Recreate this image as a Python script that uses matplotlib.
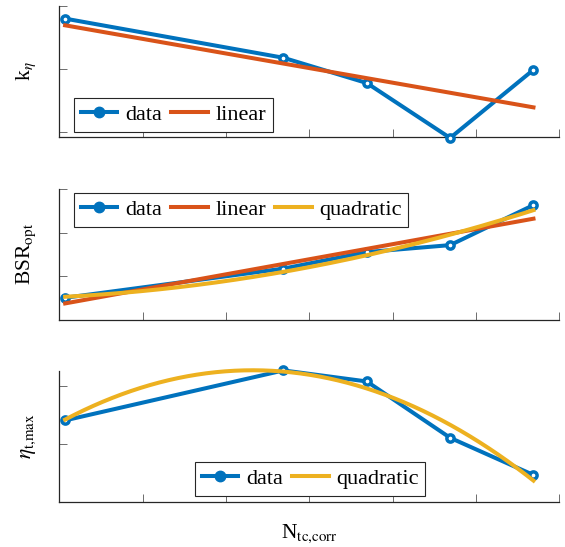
import numpy as np
import matplotlib
matplotlib.use("Agg")
import matplotlib.pyplot as plt
from matplotlib.lines import Line2D

# ---- data (axes have no tick labels) ----
n_tc_corr = [0.07, 2.69, 3.69, 4.69, 5.69]
k_eta = [1.80, 1.18, 0.78, -0.09, 0.99]
bsr_opt = [0.50, 1.17, 1.55, 1.71, 2.63]
eta_t_max = [1.40, 2.26, 2.07, 1.10, 0.46]

x_ticks = [0, 1, 2, 3, 4, 5, 6]
ylabels = ["k$_{\\eta}$", "BSR$_{\\mathrm{opt}}$", "$\\eta_{\\mathrm{t{,}max}}$"]
xlabel = "N$_{\\mathrm{tc{,}corr}}$"

BLUE = "#0072BD"
ORANGE = "#D95319"
YELLOW = "#EDB120"
DARK = "#262626"

plt.rcParams["font.family"] = ["Liberation Serif", "DejaVu Serif"]
plt.rcParams["mathtext.fontset"] = "stix"

W, H = 565, 547
fig = plt.figure(figsize=(W / 100, H / 100), dpi=100)

def ax_rect(left_px, right_px, top_px, bottom_px):
    return [left_px / W, 1 - bottom_px / H, (right_px - left_px) / W, (bottom_px - top_px) / H]

axes = [
    fig.add_axes(ax_rect(59.3, 559.3, 6.0, 136.7)),
    fig.add_axes(ax_rect(59.3, 559.3, 189.0, 319.5)),
    fig.add_axes(ax_rect(59.3, 559.3, 371.0, 501.7)),
]
ylims = [(-0.07, 2.0), (0.0, 3.0), (0.0, 2.25)]
yticks = [[0, 1, 2], [0, 1, 2, 3], [0, 1, 2]]
series = [k_eta, bsr_opt, eta_t_max]
fits = [[1], [1, 2], [2]]
legend_pos = [(74, 98), (74, 193), (195, 462)]

x = np.asarray(n_tc_corr)
xf = np.linspace(x.min(), x.max(), 200)

for i, ax in enumerate(axes):
    y = np.asarray(series[i])
    ax.plot(x, y, "-o", color=BLUE, lw=2.9, ms=5.2, mew=2.5, mfc="white",
            clip_on=False, zorder=3)
    handles = [Line2D([], [], color=BLUE, lw=2.9, marker="o", ms=7.5, mfc=BLUE, mec=BLUE)]
    names = ["data"]
    for deg in fits[i]:
        c = np.polyfit(x, y, deg)
        col = ORANGE if deg == 1 else YELLOW
        ax.plot(xf, np.polyval(c, xf), color=col, lw=2.9, clip_on=False, zorder=4 + deg)
        handles.append(Line2D([], [], color=col, lw=2.9))
        names.append("linear" if deg == 1 else "quadratic")

    ax.set_xlim(0, 6)
    ax.set_ylim(*ylims[i])
    ax.set_xticks(x_ticks)
    ax.set_yticks(yticks[i])
    ax.tick_params(direction="in", length=6, width=0.6, color="#555555",
                   labelleft=False, labelbottom=False)
    for s in ["top", "right"]:
        ax.spines[s].set_visible(False)
    for s in ["left", "bottom"]:
        ax.spines[s].set_color(DARK)
        ax.spines[s].set_linewidth(0.9)
    ax.set_ylabel(ylabels[i], fontsize=15.5, labelpad=15)

    lx, ly = legend_pos[i]
    leg = ax.legend(handles, names, loc="upper left",
                    bbox_to_anchor=(lx / W, 1 - ly / H), bbox_transform=fig.transFigure,
                    ncol=len(names), fontsize=16, frameon=True, fancybox=False,
                    borderaxespad=0, borderpad=0.3, handlelength=1.65,
                    handletextpad=0.35, columnspacing=0.4)
    leg.get_frame().set_edgecolor(DARK)
    leg.get_frame().set_linewidth(0.8)
    leg.get_frame().set_alpha(1)

axes[2].set_xlabel(xlabel, fontsize=15.5, labelpad=15)

fig.savefig("out.png", dpi=100)
